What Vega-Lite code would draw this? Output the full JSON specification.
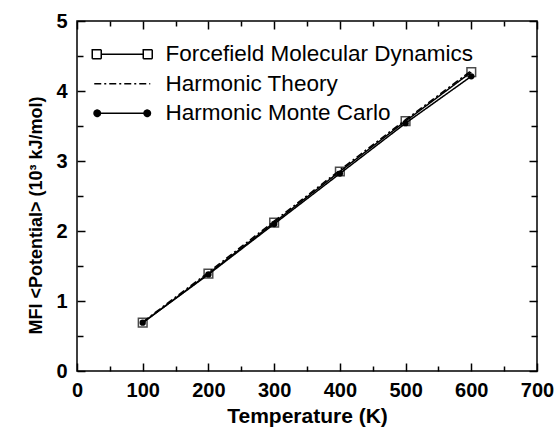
{
  "$schema": "https://vega.github.io/schema/vega-lite/v6.json",
  "width": 460,
  "height": 350,
  "autosize": "none",
  "padding": {"left": 77, "top": 21, "right": 21, "bottom": 56},
  "background": "white",
  "config": {
    "font": "Liberation Sans",
    "view": {"stroke": "black", "strokeWidth": 1.5},
    "axis": {
      "grid": false,
      "domain": false,
      "tickColor": "black",
      "tickWidth": 1.5,
      "labelColor": "black",
      "labelFont": "Liberation Sans",
      "labelFontWeight": "bold",
      "labelFontSize": 20,
      "titleColor": "black",
      "titleFont": "Liberation Sans",
      "titleFontWeight": "bold",
      "titleFontSize": 18
    }
  },
  "data": {
    "values": [
      {"T": 100, "E": 0.69, "series": "Forcefield Molecular Dynamics"},
      {"T": 200, "E": 1.39, "series": "Forcefield Molecular Dynamics"},
      {"T": 300, "E": 2.12, "series": "Forcefield Molecular Dynamics"},
      {"T": 400, "E": 2.85, "series": "Forcefield Molecular Dynamics"},
      {"T": 500, "E": 3.57, "series": "Forcefield Molecular Dynamics"},
      {"T": 600, "E": 4.27, "series": "Forcefield Molecular Dynamics"},
      {"T": 100, "E": 0.70, "series": "Harmonic Theory"},
      {"T": 200, "E": 1.41, "series": "Harmonic Theory"},
      {"T": 300, "E": 2.14, "series": "Harmonic Theory"},
      {"T": 400, "E": 2.87, "series": "Harmonic Theory"},
      {"T": 500, "E": 3.59, "series": "Harmonic Theory"},
      {"T": 600, "E": 4.29, "series": "Harmonic Theory"},
      {"T": 100, "E": 0.69, "series": "Harmonic Monte Carlo"},
      {"T": 200, "E": 1.38, "series": "Harmonic Monte Carlo"},
      {"T": 300, "E": 2.10, "series": "Harmonic Monte Carlo"},
      {"T": 400, "E": 2.82, "series": "Harmonic Monte Carlo"},
      {"T": 500, "E": 3.54, "series": "Harmonic Monte Carlo"},
      {"T": 600, "E": 4.21, "series": "Harmonic Monte Carlo"}
    ]
  },
  "layer": [
    {
      "mark": {"type": "line", "color": "black", "strokeWidth": 1.5},
      "encoding": {
        "x": {
          "field": "T", "type": "quantitative",
          "scale": {"domain": [0, 700], "nice": false},
          "axis": {
            "orient": "bottom",
            "title": "Temperature (K)",
            "titleFontSize": 21,
            "titlePadding": 5,
            "values": [0, 50, 100, 150, 200, 250, 300, 350, 400, 450, 500, 550, 600, 650, 700],
            "labelExpr": "datum.value % 100 === 0 ? '' + datum.value : ''",
            "tickSize": {"condition": {"test": "datum.value % 100 === 0", "value": -8}, "value": -5},
            "labelPadding": 17,
            "labelFlush": false
          }
        },
        "y": {
          "field": "E", "type": "quantitative",
          "scale": {"domain": [0, 5], "nice": false},
          "axis": {
            "orient": "left",
            "title": "MFI <Potential> (10³ kJ/mol)",
            "titleY": 194,
            "titlePadding": 10,
            "values": [0, 0.5, 1, 1.5, 2, 2.5, 3, 3.5, 4, 4.5, 5],
            "labelExpr": "datum.value % 1 === 0 ? '' + datum.value : ''",
            "tickSize": {"condition": {"test": "datum.value % 1 === 0", "value": -8}, "value": -6},
            "labelPadding": 18,
            "labelFlush": false
          }
        },
        "strokeDash": {
          "field": "series", "type": "nominal",
          "scale": {
            "domain": ["Forcefield Molecular Dynamics", "Harmonic Theory", "Harmonic Monte Carlo"],
            "range": [[1, 0], [7, 3, 2, 3], [1, 0]]
          },
          "legend": {
            "title": null,
            "orient": "none",
            "legendX": 9,
            "legendY": 22,
            "padding": 0,
            "symbolSize": 100,
            "symbolStrokeWidth": 1.5,
            "symbolStrokeColor": "black",
            "labelFont": "Liberation Sans",
            "labelFontSize": 22.5,
            "labelColor": "black",
            "labelLimit": 0,
            "labelOffset": 57,
            "rowPadding": 6.5,
            "encode": {
              "symbols": {
                "update": {
                  "shape": {"signal": "datum.value === 'Forcefield Molecular Dynamics' ? 'M-1,-0.9H0.8V0.9H-1Z M0.8,0H9.2 M9.2,-0.9H11V0.9H9.2Z' : datum.value === 'Harmonic Theory' ? 'M-0.6,0H10.6' : 'M-0.64,0A0.64,0.64 0 1 0 0.64,0A0.64,0.64 0 1 0 -0.64,0Z M0.64,0H9.36 M9.36,0A0.64,0.64 0 1 0 10.64,0A0.64,0.64 0 1 0 9.36,0Z'"},
                  "fill": {"signal": "datum.value === 'Forcefield Molecular Dynamics' ? 'white' : 'black'"},
                  "stroke": {"value": "black"},
                  "strokeWidth": {"value": 1.5}
                }
              }
            }
          }
        }
      }
    },
    {
      "transform": [{"filter": "datum.series === 'Forcefield Molecular Dynamics'"}],
      "mark": {"type": "point", "shape": "square", "filled": false, "stroke": "black", "strokeWidth": 1.5, "size": 75},
      "encoding": {
        "x": {
          "field": "T", "type": "quantitative",
          "axis": {
            "orient": "top", "title": null, "labels": false,
            "values": [0, 50, 100, 150, 200, 250, 300, 350, 400, 450, 500, 550, 600, 650, 700],
            "tickSize": {"condition": {"test": "datum.value % 100 === 0", "value": -8}, "value": -5}
          }
        },
        "y": {
          "field": "E", "type": "quantitative",
          "axis": {
            "orient": "right", "title": null, "labels": false,
            "values": [0, 0.5, 1, 1.5, 2, 2.5, 3, 3.5, 4, 4.5, 5],
            "tickSize": {"condition": {"test": "datum.value % 1 === 0", "value": -8}, "value": -6}
          }
        }
      }
    },
    {
      "transform": [{"filter": "datum.series === 'Harmonic Monte Carlo'"}],
      "mark": {"type": "circle", "color": "black", "opacity": 1, "size": 40},
      "encoding": {
        "x": {"field": "T", "type": "quantitative", "axis": null},
        "y": {"field": "E", "type": "quantitative", "axis": null}
      }
    }
  ],
  "resolve": {"axis": {"x": "independent", "y": "independent"}}
}
